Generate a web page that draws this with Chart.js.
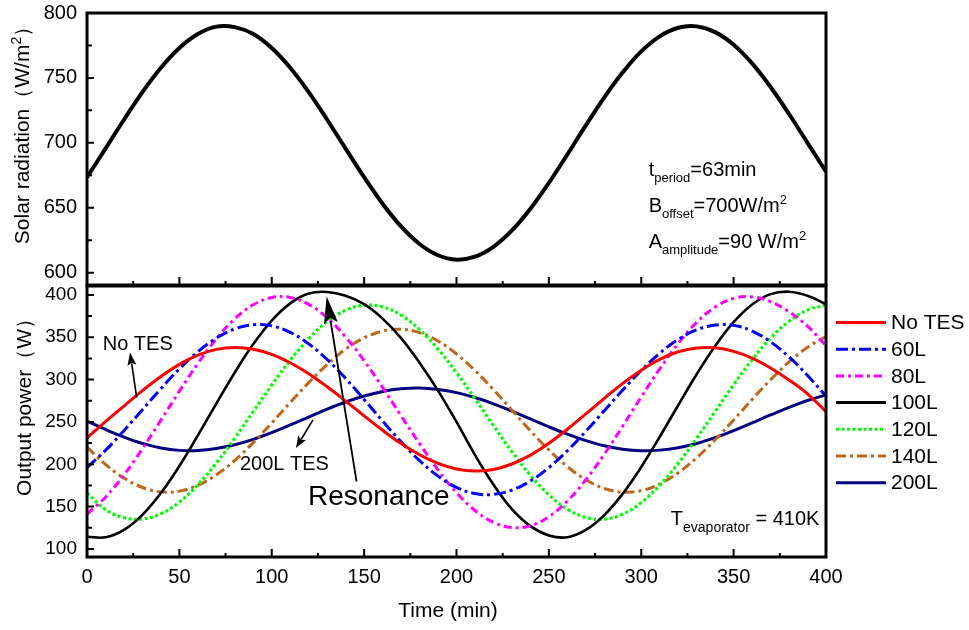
<!DOCTYPE html>
<html>
<head>
<meta charset="utf-8">
<script src="https://cdn.jsdelivr.net/npm/chart.js@4.4.1/dist/chart.umd.min.js"></script>
<style>
  html, body { margin: 0; padding: 0; background: #fff; }
  #wrap { position: relative; width: 969px; height: 630px; overflow: hidden; background: #fff; }
  #wrap canvas { position: absolute; left: 0; }
  #topCv { top: 0; }
  #botCv { top: 282px; }
</style>
</head>
<body>
<div id="wrap">
  <canvas id="topCv" width="969" height="290"></canvas>
  <canvas id="botCv" width="969" height="348"></canvas>
</div>
<script>
// ---- time axis (min) ----
const TIME = [0, 10, 20, 30, 40, 50, 60, 70, 80, 90, 100, 110, 120, 130, 140, 150, 160, 170, 180, 190, 200,
              210, 220, 230, 240, 250, 260, 270, 280, 290, 300, 310, 320, 330, 340, 350, 360, 370, 380, 390, 400];

// ---- solar radiation input (W/m2) ----
const SOLAR = [673.5, 695.5, 717.8, 739.1, 757.9, 773.1, 783.8, 789.5, 789.1, 783.8, 773.1, 757.9, 739.1, 717.8,
               695.5, 673.5, 653.1, 635.6, 622.1, 613.4, 610.0, 612.3, 619.9, 632.5, 649.3, 669.2, 691.0, 713.4,
               735.0, 754.3, 770.4, 782.0, 788.6, 789.7, 785.3, 775.6, 761.2, 743.0, 722.2, 700.0, 677.8];

// ---- output power (W) for each TES volume ----
const NO_TES = [231.0, 250.3, 268.7, 286.9, 303.6, 317.9, 328.8, 335.7, 338.0, 335.9, 329.8, 319.9, 306.9, 291.5,
                274.6, 257.1, 240.1, 224.5, 211.3, 201.1, 194.5, 192.0, 193.9, 200.3, 210.8, 224.8, 241.4, 259.5,
                277.9, 295.5, 311.1, 323.8, 332.8, 337.4, 337.5, 333.3, 325.3, 313.7, 299.5, 283.2, 262.0];
const TES_60L = [196.1, 216.4, 239.7, 264.5, 289.3, 312.6, 332.9, 348.9, 359.8, 364.7, 363.4, 355.8, 342.2, 323.7,
                 301.3, 276.6, 251.1, 226.5, 204.3, 186.0, 172.7, 165.4, 164.4, 169.5, 180.3, 196.1, 216.0, 238.9,
                 263.3, 287.7, 310.8, 331.1, 347.4, 358.7, 364.4, 364.0, 357.3, 344.6, 326.7, 304.9, 280.4];
const TES_80L = [141.2, 161.1, 187.4, 218.3, 252.1, 286.3, 319.0, 348.1, 371.7, 388.3, 396.9, 397.0, 388.8, 372.9,
                 350.3, 322.3, 290.7, 257.3, 224.2, 193.3, 166.4, 145.4, 131.4, 125.3, 127.4, 138.1, 156.6, 181.7,
                 211.9, 245.2, 279.5, 312.7, 342.7, 367.6, 385.6, 395.9, 397.6, 392.0, 380.0, 363.0, 340.0];
const TES_100L = [114.5, 113.8, 122.5, 140.3, 166.0, 198.0, 234.1, 271.7, 308.4, 341.9, 369.7, 390.0, 401.6, 403.5,
                  399.0, 389.0, 372.0, 349.0, 320.0, 287.0, 250.0, 211.0, 176.0, 147.0, 127.0, 116.0, 113.8, 122.4,
                  139.9, 165.3, 196.8, 232.4, 269.7, 306.3, 339.7, 367.8, 388.6, 400.9, 403.8, 399.0, 389.0];
const TES_120L = [166.0, 146.5, 137.0, 135.4, 141.6, 155.4, 175.8, 201.5, 230.9, 262.3, 293.6, 322.9, 348.3, 368.5,
                  381.9, 387.7, 385.8, 376.0, 359.0, 335.9, 308.1, 277.4, 245.6, 214.9, 187.1, 164.0, 147.0, 137.2,
                  135.3, 141.2, 154.8, 175.2, 201.1, 230.7, 262.3, 293.9, 323.4, 348.9, 369.0, 382.2, 387.8];
const TES_140L = [220.2, 199.9, 183.7, 172.6, 167.4, 168.3, 175.2, 187.6, 204.7, 225.6, 248.8, 272.9, 296.4, 317.8,
                  335.9, 349.3, 357.3, 359.4, 355.4, 345.5, 330.2, 310.7, 288.1, 263.9, 239.6, 216.9, 197.2, 181.7,
                  171.4, 167.1, 168.9, 176.7, 189.9, 207.7, 228.9, 252.4, 276.5, 299.8, 320.8, 338.2, 350.8];
const TES_200L = [251.0, 241.1, 232.1, 224.6, 219.3, 216.4, 216.2, 218.5, 223.0, 229.4, 237.4, 246.4, 255.8, 265.1,
                  273.5, 280.6, 286.0, 289.1, 290.0, 288.4, 284.6, 278.8, 271.4, 262.7, 253.5, 244.2, 235.5, 227.9,
                  221.8, 217.8, 216.1, 216.7, 219.6, 224.6, 231.5, 239.7, 248.8, 258.2, 267.2, 275.3, 282.0];

// ---- tick labels ----
const TIME_TICKS = [0, 50, 100, 150, 200, 250, 300, 350, 400];
const SOLAR_TICKS = [600, 650, 700, 750, 800];
const POWER_TICKS = [100, 150, 200, 250, 300, 350, 400];

const SERIES = [
  { label: 'No TES', values: NO_TES,   color: '#ff0000', dash: [],            width: 3 },
  { label: '60L',    values: TES_60L,  color: '#0000ff', dash: [12, 4, 3, 4], width: 3 },
  { label: '80L',    values: TES_80L,  color: '#ff00ff', dash: [8, 4, 3, 4],  width: 3 },
  { label: '100L',   values: TES_100L, color: '#000000', dash: [],            width: 2.6 },
  { label: '120L',   values: TES_120L, color: '#00ff00', dash: [3, 2.5],      width: 3.2 },
  { label: '140L',   values: TES_140L, color: '#c0651a', dash: [10, 4, 3, 4], width: 3 },
  { label: '200L',   values: TES_200L, color: '#000080', dash: [],            width: 3 }
];

const FONT = '"Liberation Sans", Arial, Helvetica, sans-serif';
const toPoints = (vals) => TIME.map((t, i) => ({ x: t, y: vals[i] }));

// text with optional subscript / superscript pieces, drawn left-to-right
function richText(ctx, x, y, parts, size, small, subDy, supDy) {
  let cx = x;
  for (const [txt, kind] of parts) {
    ctx.font = (kind ? small : size) + 'px ' + FONT;
    const dy = kind === 'sub' ? subDy : kind === 'sup' ? -supDy : 0;
    ctx.fillText(txt, cx, y + dy);
    cx += ctx.measureText(txt).width;
  }
  return cx - x;
}
function richWidth(ctx, parts, size, small) {
  let w = 0;
  for (const [txt, kind] of parts) {
    ctx.font = (kind ? small : size) + 'px ' + FONT;
    w += ctx.measureText(txt).width;
  }
  return w;
}
function arrow(ctx, x1, y1, x2, y2, headLen, headW, lw) {
  const ang = Math.atan2(y2 - y1, x2 - x1);
  const bx = x2 - headLen * Math.cos(ang), by = y2 - headLen * Math.sin(ang);
  ctx.lineWidth = lw;
  ctx.beginPath(); ctx.moveTo(x1, y1); ctx.lineTo(bx + 2 * Math.cos(ang), by + 2 * Math.sin(ang)); ctx.stroke();
  const nx = Math.sin(ang) * headW / 2, ny = -Math.cos(ang) * headW / 2;
  const ix = x2 - headLen * 0.8 * Math.cos(ang), iy = y2 - headLen * 0.8 * Math.sin(ang);
  ctx.beginPath();
  ctx.moveTo(x2, y2);
  ctx.lineTo(bx + nx, by + ny);
  ctx.lineTo(ix, iy);
  ctx.lineTo(bx - nx, by - ny);
  ctx.closePath(); ctx.fill();
}

// y axis of fixed width whose tick labels do not push the plot area inwards
function fixedYAxis(s) {
  s.width = 87;
  s.paddingTop = 0;
  s.paddingBottom = 0;
}

// frame with inward ticks: left side and bottom side
function framePlugin(yTicks, yMajor, yMinor, xMajor, xMinor) {
  return {
    id: 'frameTicks',
    afterDatasetsDraw(chart) {
      const { ctx, chartArea: a, scales } = chart;
      const xs = scales.x, ys = scales.y;
      ctx.save();
      ctx.strokeStyle = '#000';
      ctx.lineWidth = 2;
      ctx.beginPath();
      for (let i = 0; i < yTicks.length; i++) {
        const py = ys.getPixelForValue(yTicks[i]);
        ctx.moveTo(a.left, py); ctx.lineTo(a.left + yMajor, py);
        if (i < yTicks.length - 1) {
          const pm = ys.getPixelForValue((yTicks[i] + yTicks[i + 1]) / 2);
          ctx.moveTo(a.left, pm); ctx.lineTo(a.left + yMinor, pm);
        }
      }
      for (let i = 0; i < TIME_TICKS.length; i++) {
        const px = xs.getPixelForValue(TIME_TICKS[i]);
        ctx.moveTo(px, a.bottom); ctx.lineTo(px, a.bottom - xMajor);
        if (i < TIME_TICKS.length - 1) {
          const pm = xs.getPixelForValue((TIME_TICKS[i] + TIME_TICKS[i + 1]) / 2);
          ctx.moveTo(pm, a.bottom); ctx.lineTo(pm, a.bottom - xMinor);
        }
      }
      ctx.stroke();
      ctx.lineWidth = 3;
      ctx.strokeRect(a.left, a.top, a.right - a.left, a.bottom - a.top);
      ctx.restore();
    }
  };
}

// ---------------- top panel: solar radiation ----------------
const topNotes = {
  id: 'topNotes',
  afterDraw(chart) {
    const { ctx, scales } = chart;
    ctx.save();
    ctx.fillStyle = '#000';
    ctx.textBaseline = 'alphabetic';
    ctx.textAlign = 'left';
    // axis title
    const title = [['Solar radiation（W/m', ''], ['2', 'sup'], ['）', '']];
    const tw = richWidth(ctx, title, 21, 14);
    ctx.translate(29, 130);
    ctx.rotate(-Math.PI / 2);
    richText(ctx, -tw / 2, 0, title, 21, 14, 6, 8);
    ctx.restore();

    ctx.save();
    ctx.fillStyle = '#000';
    ctx.textAlign = 'left';
    const x0 = scales.x.getPixelForValue(304);
    const lines = [
      { v: 674.5, parts: [['t', ''], ['period', 'sub'], ['=63min', '']] },
      { v: 647.0, parts: [['B', ''], ['offset', 'sub'], ['=700W/m', ''], ['2', 'sup']] },
      { v: 619.3, parts: [['A', ''], ['amplitude', 'sub'], ['=90 W/m', ''], ['2', 'sup']] }
    ];
    for (const l of lines) {
      richText(ctx, x0, scales.y.getPixelForValue(l.v), l.parts, 20, 13, 6, 8);
    }
    ctx.restore();
  }
};

new Chart(document.getElementById('topCv'), {
  type: 'line',
  data: {
    datasets: [{
      label: 'Solar radiation',
      data: toPoints(SOLAR),
      borderColor: '#000',
      borderWidth: 4,
      pointRadius: 0,
      fill: false,
      tension: 0.4
    }]
  },
  options: {
    responsive: false,
    animation: false,
    layout: { padding: { left: 0, right: 143, top: 13, bottom: 5 } },
    plugins: { legend: { display: false }, tooltip: { enabled: false }, title: { display: false } },
    scales: {
      x: { type: 'linear', min: 0, max: 400, display: false },
      y: {
        type: 'linear', min: 590.5, max: 800,
        afterBuildTicks: (s) => { s.ticks = SOLAR_TICKS.map(v => ({ value: v })); },
        afterFit: fixedYAxis,
        grid: { display: false, drawTicks: false },
        border: { display: false },
        ticks: { color: '#000', font: { family: FONT, size: 20 }, padding: 10 }
      }
    }
  },
  plugins: [framePlugin(SOLAR_TICKS, 7, 5, 8, 4), topNotes]
});

// ---------------- bottom panel: output power ----------------
const botNotes = {
  id: 'botNotes',
  afterDraw(chart) {
    const { ctx, scales } = chart;
    const X = (t) => scales.x.getPixelForValue(t);
    const Y = (v) => scales.y.getPixelForValue(v);
    ctx.save();
    ctx.fillStyle = '#000';
    ctx.strokeStyle = '#000';
    ctx.textAlign = 'left';
    ctx.textBaseline = 'alphabetic';

    // axis titles
    const title = [['Output power（W）', '']];
    const tw = richWidth(ctx, title, 21, 14);
    ctx.save();
    ctx.translate(31, 120);
    ctx.rotate(-Math.PI / 2);
    richText(ctx, -tw / 2, 0, title, 21, 14, 6, 8);
    ctx.restore();
    ctx.font = '21px ' + FONT;
    ctx.textAlign = 'center';
    ctx.fillText('Time (min)', 448, 335);
    ctx.textAlign = 'left';

    // curve annotations
    ctx.font = '20px ' + FONT;
    ctx.fillText('No TES', X(8.5), Y(335));
    arrow(ctx, X(26.9), Y(278.6), X(23.3), Y(331.9), 13, 9, 1.6);
    ctx.font = '20px ' + FONT;
    ctx.fillText('200L TES', X(82.8), Y(193.5));
    arrow(ctx, X(122.3), Y(252.5), X(113.1), Y(219.1), 12, 9, 1.6);
    ctx.font = '28px ' + FONT;
    ctx.fillText('Resonance', X(119.6), Y(152.3));
    arrow(ctx, X(145.9), Y(179.7), X(129.7), Y(398), 27, 14, 1.8);

    richText(ctx, X(316), Y(127.8), [['T', ''], ['evaporator', 'sub'], [' = 410K', '']], 20, 14, 7, 8);

    // legend
    const lx0 = 836, lx1 = 886;
    chart.data.datasets.forEach((ds, i) => {
      const ly = 40.5 + i * 26.7;
      ctx.save();
      ctx.strokeStyle = ds.borderColor;
      ctx.lineWidth = 3;
      ctx.setLineDash(ds.borderDash || []);
      ctx.beginPath(); ctx.moveTo(lx0, ly); ctx.lineTo(lx1, ly); ctx.stroke();
      ctx.restore();
      ctx.font = '21px ' + FONT;
      ctx.textBaseline = 'middle';
      ctx.fillText(ds.label, 891, ly + 1);
    });
    ctx.restore();
  }
};

new Chart(document.getElementById('botCv'), {
  type: 'line',
  data: {
    datasets: SERIES.map(s => ({
      label: s.label,
      data: toPoints(s.values),
      borderColor: s.color,
      borderDash: s.dash,
      borderWidth: s.width,
      pointRadius: 0,
      fill: false,
      tension: 0.4
    }))
  },
  options: {
    responsive: false,
    animation: false,
    layout: { padding: { left: 0, right: 143, top: 4, bottom: 0 } },
    plugins: { legend: { display: false }, tooltip: { enabled: false }, title: { display: false } },
    scales: {
      x: {
        type: 'linear', min: 0, max: 400,
        afterBuildTicks: (s) => { s.ticks = TIME_TICKS.map(v => ({ value: v })); },
        afterFit: (s) => { s.height = 73; },
        grid: { display: false, drawTicks: false },
        border: { display: false },
        ticks: { color: '#000', font: { family: FONT, size: 20 }, padding: 8, maxRotation: 0 }
      },
      y: {
        type: 'linear', min: 90.5, max: 410.5,
        afterBuildTicks: (s) => { s.ticks = POWER_TICKS.map(v => ({ value: v })); },
        afterFit: fixedYAxis,
        grid: { display: false, drawTicks: false },
        border: { display: false },
        ticks: { color: '#000', font: { family: FONT, size: 19 }, padding: 10 }
      }
    }
  },
  plugins: [framePlugin(POWER_TICKS, 7, 5, 8, 4), botNotes]
});
</script>
</body>
</html>
